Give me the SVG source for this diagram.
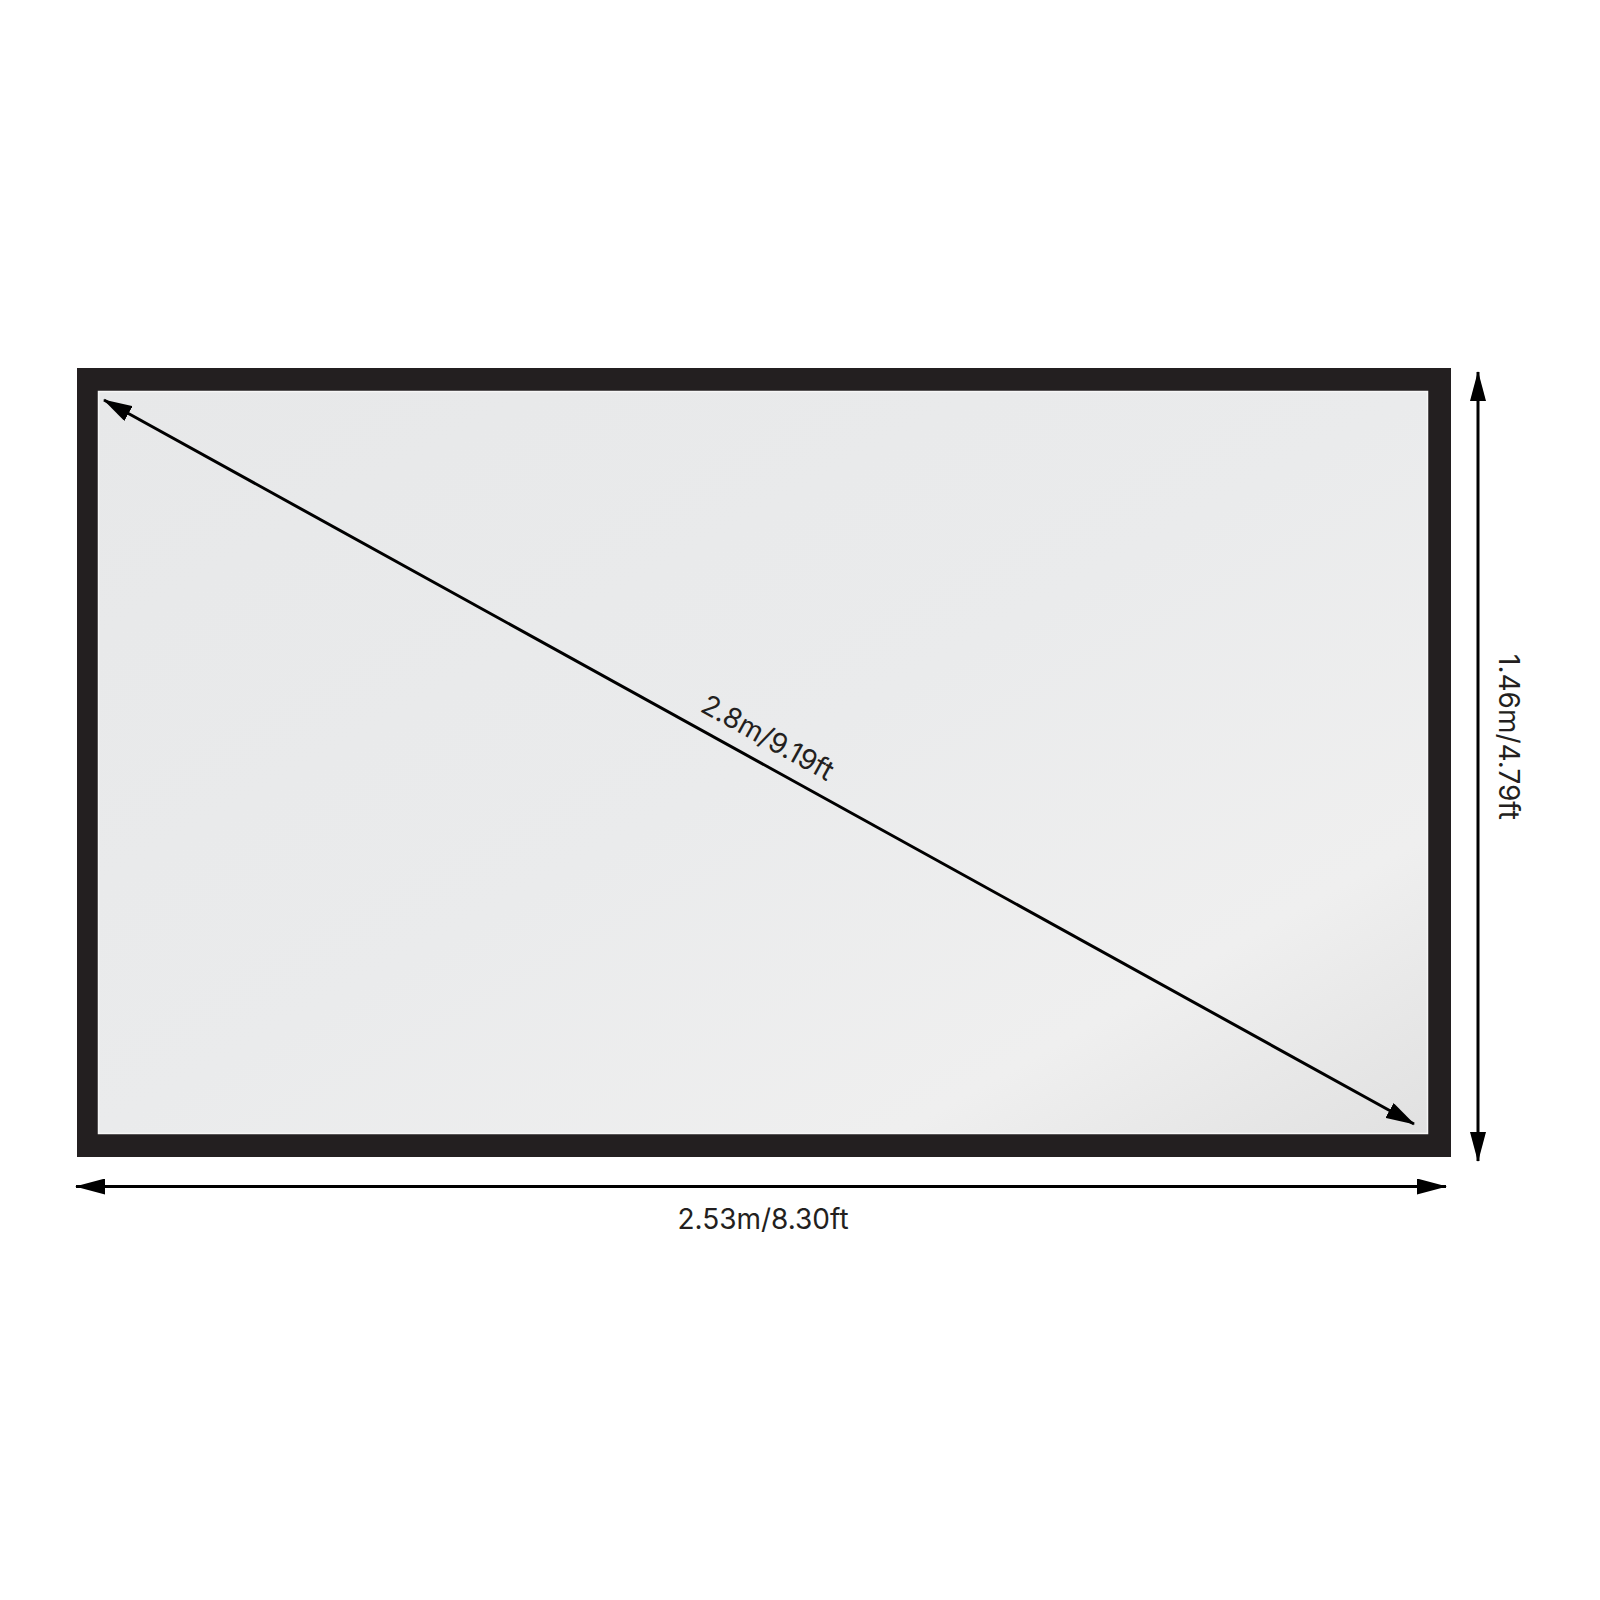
<svg xmlns="http://www.w3.org/2000/svg" width="1600" height="1600" viewBox="0 0 1600 1600">
  <defs>
    <linearGradient id="panelGrad" x1="0" y1="0" x2="1" y2="1">
      <stop offset="0" stop-color="#e7e8e9"/>
      <stop offset="0.5" stop-color="#eaebec"/>
      <stop offset="0.8" stop-color="#efefef"/>
      <stop offset="1" stop-color="#e1e1e1"/>
    </linearGradient>
    <marker id="ah" viewBox="0 0 30 16" refX="29" refY="8" markerWidth="30" markerHeight="16" markerUnits="userSpaceOnUse" orient="auto-start-reverse">
      <path d="M0,0 L30,8 L0,16 z" fill="#000"/>
    </marker>
    <marker id="ahs" viewBox="0 0 29 17" refX="28" refY="8.5" markerWidth="29" markerHeight="17" markerUnits="userSpaceOnUse" orient="auto-start-reverse">
      <path d="M0,0 L29,8.5 L0,17 z" fill="#000"/>
    </marker>
  </defs>
  <style>
    .dim { stroke: #000; stroke-width: 3; fill: none; }
    .lbl { font-family: Inter, "Liberation Sans", sans-serif; font-size: 28px; fill: #231f20; text-anchor: middle; }
  </style>
  <rect width="1600" height="1600" fill="#ffffff"/>
  <g id="screen">
    <rect x="77" y="368" width="1374" height="789" fill="#231f20"/>
    <rect x="98.5" y="391.5" width="1329" height="742" fill="url(#panelGrad)" stroke="#f6f6f6" stroke-width="1.5"/>
  </g>
  <g id="connectors">
    <line class="dim" x1="104" y1="400" x2="1414" y2="1124" marker-start="url(#ahs)" marker-end="url(#ahs)"/>
    <line class="dim" x1="76" y1="1186.5" x2="1446" y2="1186.5" marker-start="url(#ah)" marker-end="url(#ah)"/>
    <line class="dim" x1="1478" y1="372" x2="1478" y2="1161" marker-start="url(#ah)" marker-end="url(#ah)"/>
  </g>
  <g id="labels">
    <text class="lbl" transform="translate(763,746) rotate(28.93)">2.8m/9.19ft</text>
    <text class="lbl" x="763" y="1229">2.53m/8.30ft</text>
    <text class="lbl" transform="translate(1499,737) rotate(90)">1.46m/4.79ft</text>
  </g>
</svg>
